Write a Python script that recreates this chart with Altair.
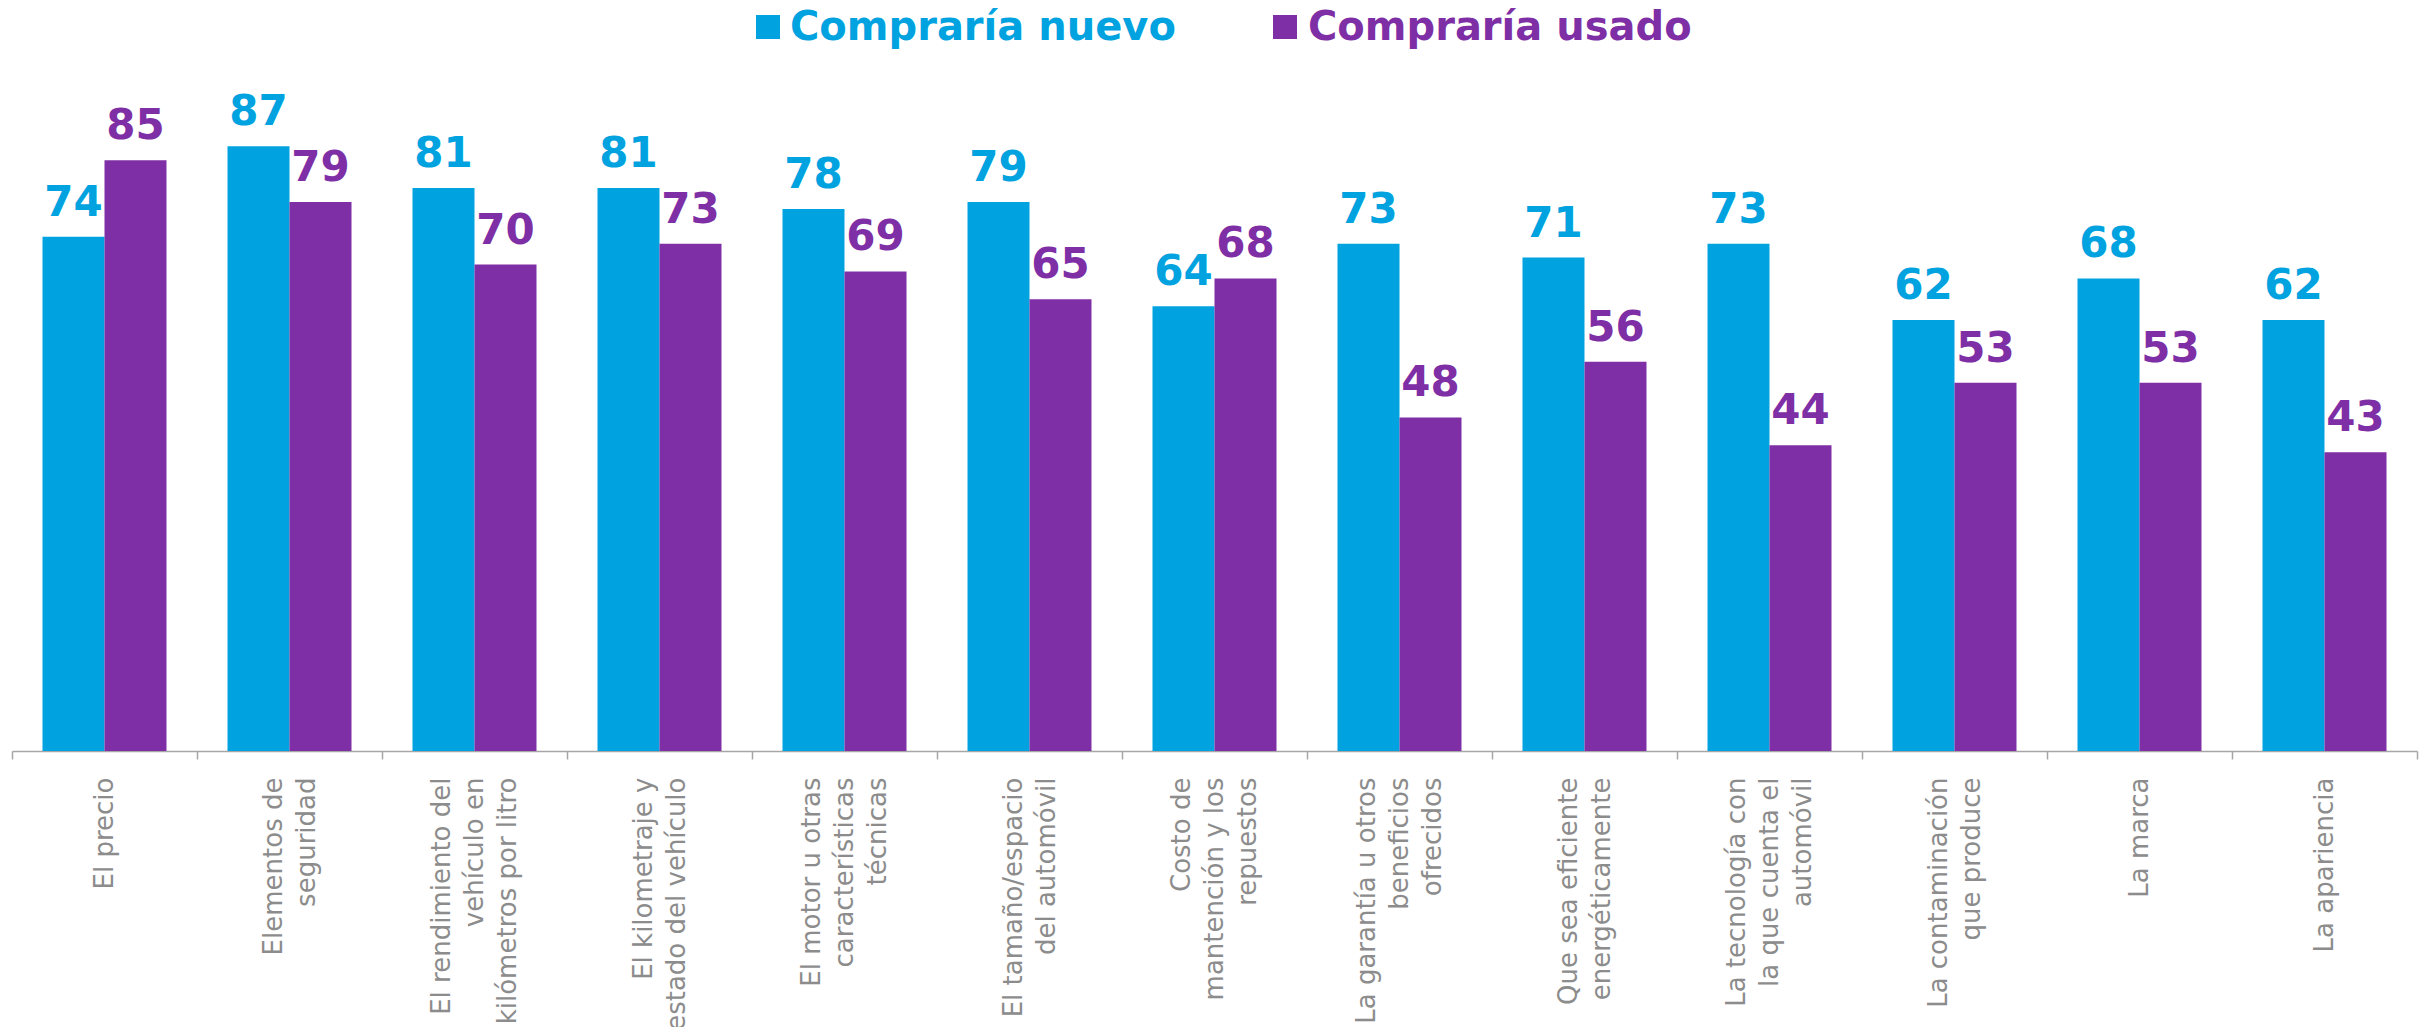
import altair as alt
import pandas as pd

categorias = [
    "El precio",
    "Elementos de|seguridad",
    "El rendimiento del|vehículo en|kilómetros por litro",
    "El kilometraje y|estado del vehículo",
    "El motor u otras|características|técnicas",
    "El tamaño/espacio|del automóvil",
    "Costo de|mantención y los|repuestos",
    "La garantía u otros|beneficios|ofrecidos",
    "Que sea eficiente|energéticamente",
    "La tecnología con|la que cuenta el|automóvil",
    "La contaminación|que produce",
    "La marca",
    "La apariencia",
]
nuevo = [74, 87, 81, 81, 78, 79, 64, 73, 71, 73, 62, 68, 62]
usado = [85, 79, 70, 73, 69, 65, 68, 48, 56, 44, 53, 53, 43]
series = ["Compraría nuevo", "Compraría usado"]
colores = ["#00A3E0", "#7F2FA6"]

rows = []
for c, n, u in zip(categorias, nuevo, usado):
    rows.append({"cat": c, "serie": series[0], "valor": n})
    rows.append({"cat": c, "serie": series[1], "valor": u})
df = pd.DataFrame(rows)

LH = 33
color = alt.Color("serie:N", scale=alt.Scale(domain=series, range=colores), legend=None)
x = alt.X(
    "cat:N",
    sort=categorias,
    scale=alt.Scale(paddingInner=0, paddingOuter=0),
    axis=alt.Axis(
        title=None,
        labelAngle=-90,
        labelAlign="right",
        labelBaseline="middle",
        labelExpr="split(datum.label, '|')",
        labelFont="DejaVu Sans",
        labelFontSize=26,
        labelLineHeight=LH,
        labelColor="#8C8C8C",
        labelPadding=18,
        labelLimit=0,
        labelOverlap=False,
        labelOffset={
            "condition": [
                {"test": "length(split(datum.value, '|')) == 3", "value": -LH},
                {"test": "length(split(datum.value, '|')) == 2", "value": -LH / 2},
            ],
            "value": 0,
        },
        tickBand="extent",
        tickSize=8,
        tickWidth=1.5,
        tickColor="#A6A6A6",
        domainColor="#A6A6A6",
        domainWidth=1.5,
        grid=False,
    ),
)
y = alt.Y("valor:Q", scale=alt.Scale(domain=[0, 100]), axis=None)
xo = alt.XOffset("serie:N", sort=series, scale=alt.Scale(paddingInner=0, paddingOuter=0.492))

base = alt.Chart(df).encode(x=x, xOffset=xo)
bars = base.mark_bar().encode(y=y, color=color)
labels = base.mark_text(
    font="DejaVu Sans", fontWeight="bold", fontSize=42, baseline="alphabetic", dy=-21
).encode(y=y, text="valor:Q", color=color)

leg1 = pd.DataFrame({"serie": [series[0]]})
leg2 = pd.DataFrame({"serie": [series[1]]})

sq1 = alt.Chart(leg1).mark_square(size=576, opacity=1).encode(
    x=alt.value(756), y=alt.value(-29), color=color
)
tx1 = alt.Chart(leg1).mark_text(
    align="left", baseline="alphabetic", font="DejaVu Sans", fontWeight="bold", fontSize=40
).encode(x=alt.value(778), y=alt.value(-16), text="serie:N", color=color)
sq2 = alt.Chart(leg2).mark_square(size=576, opacity=1).encode(
    x=alt.value(1273), y=alt.value(-29), color=color
)
tx2 = alt.Chart(leg2).mark_text(
    align="left", baseline="alphabetic", font="DejaVu Sans", fontWeight="bold", fontSize=40
).encode(x=alt.value(1296), y=alt.value(-16), text="serie:N", color=color)

chart = (
    alt.layer(bars, labels, sq1, tx1, sq2, tx2)
    .properties(
        width=2405,
        height=695,
        autosize=alt.AutoSizeParams(type="none"),
        padding={"left": 4, "top": 48, "right": 4, "bottom": 276},
    )
    .configure_view(stroke=None)
)

chart.save("out.html", embed_options={"renderer": "svg", "actions": False})
